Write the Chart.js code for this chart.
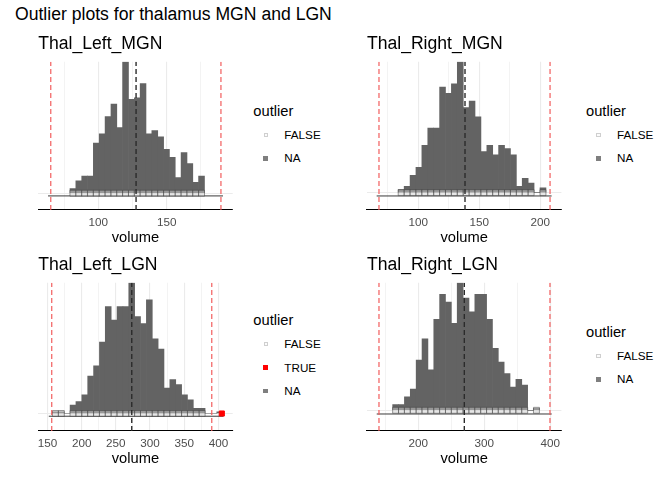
<!DOCTYPE html>
<html>
<head>
<meta charset="utf-8">
<script src="https://cdn.jsdelivr.net/npm/chart.js@4.4.1/dist/chart.umd.min.js"></script>
<style>
  body { margin: 0; background: #fff; }
  #page { position: relative; width: 672px; height: 480px; overflow: hidden;
          font-family: "Liberation Sans", Arial, Helvetica, sans-serif; color: #000; }
  .main-title { position: absolute; left: 15px; top: 4px; font-size: 17.6px; line-height: 20px; white-space: nowrap; }
  .panel { position: absolute; width: 240px; height: 220px; }
  .lg-text { position: absolute; white-space: nowrap; line-height: 20px; }
  .lg-key { position: absolute; box-sizing: border-box; }
</style>
</head>
<body>
<div id="page">
  <div class="main-title">Outlier plots for thalamus MGN and LGN</div>
  <canvas id="panel0" class="panel" width="240" height="220" style="left:0px;top:30px"></canvas>
  <canvas id="panel1" class="panel" width="240" height="220" style="left:330px;top:30px"></canvas>
  <canvas id="panel2" class="panel" width="240" height="220" style="left:0px;top:251px"></canvas>
  <canvas id="panel3" class="panel" width="240" height="220" style="left:330px;top:251px"></canvas>
</div>
<script>
// histogram bins (bin centres, volume) and counts
const panelTitles = ['Thal_Left_MGN', 'Thal_Right_MGN', 'Thal_Left_LGN', 'Thal_Right_LGN'];

const leftMgnBins = [81.4, 85.7, 90.0, 94.2, 98.5, 102.8, 107.1, 111.4, 115.6, 119.9, 124.2, 128.5,
  132.7, 137.0, 141.3, 145.6, 149.9, 154.1, 158.4, 162.7, 167.0, 171.2, 175.5];
const leftMgnCounts = [3, 8, 11, 11, 32, 38, 49, 57, 42, 84, 60, 61, 70, 38, 40, 36, 28, 23, 10, 26, 19, 7, 11];

const rightMgnBins = [86.0, 90.9, 95.7, 100.5, 105.4, 110.2, 115.1, 119.9, 124.7, 129.6, 134.4, 139.3,
  144.1, 148.9, 153.8, 158.6, 163.4, 168.3, 173.1, 178.0, 182.8, 187.6, 192.5, 197.3, 202.2];
const rightMgnCounts = [2, 4, 11, 16, 30, 41, 41, 67, 63, 69, 83, 54, 58, 48, 26, 30, 24, 30, 28, 24, 4, 9, 6, 0, 3];

const leftLgnBins = [161.7, 170.3, 178.9, 187.4, 196.0, 204.6, 213.2, 221.8, 230.3, 238.9, 247.5, 256.1,
  264.7, 273.2, 281.8, 290.4, 299.0, 307.6, 316.1, 324.7, 333.3, 341.9, 350.5, 359.0, 367.6, 376.2,
  384.8, 393.4, 401.9];
const leftLgnCounts = [1, 1, 0, 5, 7, 11, 22, 28, 42, 63, 55, 63, 63, 77, 57, 53, 67, 44, 38, 15, 20, 17,
  11, 8, 3, 3, 0, 0, 1];

const rightLgnBins = [165.6, 174.5, 183.4, 192.3, 201.2, 210.1, 219.0, 227.9, 236.7, 245.6, 254.5, 263.4,
  272.3, 281.2, 290.1, 299.0, 307.9, 316.8, 325.6, 334.5, 343.4, 352.3, 361.2, 370.1, 379.0];
const rightLgnCounts = [3, 3, 7, 11, 26, 37, 21, 47, 60, 56, 45, 66, 58, 51, 60, 60, 47, 32, 25, 19, 12, 16, 13, 0, 1];

const lowerLimits = [65.2, 67.8, 156.3, 140.4];
const upperLimits = [189.7, 208.0, 390.3, 399.5];
const medians = [127.6, 138.3, 273.3, 269.7];
const outlierValues = [[], [], [405.0], []];
const rangeFrom = [63.2, 65.9, 152.0, 137.0];
const rangeTo = [191.2, 209.3, 407.3, 402.1];
const legendLabels = [['FALSE', 'NA'], ['FALSE', 'NA'], ['FALSE', 'TRUE', 'NA'], ['FALSE', 'NA']];
const gridSteps = [25, 25, 25, 50];
const labelSteps = [50, 50, 50, 100];

// axis windows and layout
const xRanges = [[56.0, 198.3], [57.9, 217.3], [136.5, 420.9], [122.1, 416.8]];
const yRanges = [[-10.7, 84], [-11.0, 83], [-10.3, 77], [-10.7, 66]];
const rangeLineY = [-1.7, -2.1, -1.6, -1.9];
const padLeft = [38.2, 36.9, 38.2, 36.9];
const padRight = [7.3, 8.6, 7.3, 8.6];
const legendX = [253.3, 586, 253.3, 586];
const legendTitleY = [110.7, 110.7, 320, 331.7];

const FONT = '"Liberation Sans", Arial, Helvetica, sans-serif';
const redLine = '#f25c5c';

function vline(v, yr) {
  return [{ x: v, y: yr[0] }, { x: v, y: yr[1] }];
}

function buildPanel(i, bins, counts) {
  const yr = yRanges[i];
  const strip = bins
    .filter((b, k) => counts[k] > 0 && b >= lowerLimits[i] && b <= upperLimits[i])
    .map(b => ({ x: b, y: 0 }));
  const dashed = { type: 'line', pointRadius: 0, borderWidth: 1.2, borderDash: [5, 3], borderColor: redLine, order: 1 };

  new Chart(document.getElementById('panel' + i), {
    type: 'bar',
    data: {
      datasets: [
        { type: 'line', data: vline(medians[i], yr), pointRadius: 0, borderWidth: 1.4,
          borderDash: [5, 3], borderColor: '#2b2b2b', order: 0 },
        Object.assign({ data: vline(lowerLimits[i], yr) }, dashed),
        Object.assign({ data: vline(upperLimits[i], yr) }, dashed),
        { type: 'scatter', data: outlierValues[i].map(v => ({ x: v, y: 0 })), pointStyle: 'rect',
          pointRadius: 3.6, backgroundColor: '#ff0000', borderColor: '#ff0000', borderWidth: 1, order: 2 },
        { type: 'scatter', data: strip, pointStyle: 'rect', pointRadius: 4.2,
          backgroundColor: 'rgba(205,205,205,0.5)', borderColor: 'rgba(60,60,60,0.5)', borderWidth: 1, order: 3 },
        { type: 'line', data: [{ x: rangeFrom[i], y: rangeLineY[i] }, { x: rangeTo[i], y: rangeLineY[i] }],
          pointRadius: 0, borderWidth: 1, borderColor: '#3a3a3a', order: 4 },
        { type: 'bar', data: bins.map((b, k) => ({ x: b, y: counts[k] })), backgroundColor: '#636363',
          borderWidth: 0, barPercentage: 1, categoryPercentage: 1, barThickness: 'flex', order: 5 }
      ]
    },
    options: {
      responsive: false,
      animation: false,
      events: [],
      layout: { padding: { left: padLeft[i], right: padRight[i], top: 3.3, bottom: 3 } },
      plugins: {
        legend: { display: false },
        tooltip: { enabled: false },
        title: {
          display: true, text: panelTitles[i], align: 'start', color: '#000',
          font: { family: FONT, size: 17.6, weight: 'normal' },
          padding: { top: 0, bottom: 7.3 }
        }
      },
      scales: {
        x: {
          type: 'linear', min: xRanges[i][0], max: xRanges[i][1], offset: false,
          grid: {
            offset: false, drawTicks: false, color: '#ebebeb',
            lineWidth: c => (c.tick && c.tick.value % labelSteps[i] === 0) ? 1.1 : 0.6
          },
          border: { display: true, color: '#000', width: 1.1 },
          ticks: {
            stepSize: gridSteps[i], includeBounds: false, autoSkip: false, maxRotation: 0,
            padding: 5.6, color: '#4d4d4d', font: { family: FONT, size: 11.7 },
            callback: v => (v % labelSteps[i] === 0 ? String(v) : '')
          },
          title: { display: true, text: 'volume', color: '#000', font: { family: FONT, size: 14.7 },
                   padding: { top: 0, bottom: 0 } },
          afterFit: s => { s.height = 37; }
        },
        y: {
          type: 'linear', min: yr[0], max: yr[1],
          afterBuildTicks: s => { s.ticks = [{ value: 0 }]; },
          grid: { color: '#ebebeb', lineWidth: 1.1, drawTicks: false },
          border: { display: false },
          ticks: { display: false },
          afterFit: s => { s.width = 0; }
        }
      }
    }
  });
}

const keyStyles = {
  FALSE: { bg: '#fbfbfb', border: '1px solid #cfcfcf', size: 4.4 },
  TRUE: { bg: '#ff0000', border: 'none', size: 4.7 },
  NA: { bg: '#7f7f7f', border: 'none', size: 4.7 }
};

function addText(text, x, cy, size) {
  const el = document.createElement('div');
  el.className = 'lg-text';
  el.textContent = text;
  el.style.left = x + 'px';
  el.style.top = (cy - 10) + 'px';
  el.style.fontSize = size + 'px';
  document.getElementById('page').appendChild(el);
}

function buildLegend(i) {
  const x0 = legendX[i];
  const y0 = legendTitleY[i];
  addText('outlier', x0, y0, 14.7);
  legendLabels[i].forEach((lab, k) => {
    const cy = y0 + 24.3 + k * 23.4;
    const st = keyStyles[lab];
    const key = document.createElement('div');
    key.className = 'lg-key';
    key.style.left = (x0 + 12.4 - st.size / 2) + 'px';
    key.style.top = (cy - st.size / 2) + 'px';
    key.style.width = st.size + 'px';
    key.style.height = st.size + 'px';
    key.style.background = st.bg;
    key.style.border = st.border;
    document.getElementById('page').appendChild(key);
    addText(lab, x0 + 31, cy, 11.7);
  });
}

buildPanel(0, leftMgnBins, leftMgnCounts);
buildPanel(1, rightMgnBins, rightMgnCounts);
buildPanel(2, leftLgnBins, leftLgnCounts);
buildPanel(3, rightLgnBins, rightLgnCounts);
[0, 1, 2, 3].forEach(buildLegend);
</script>
</body>
</html>
